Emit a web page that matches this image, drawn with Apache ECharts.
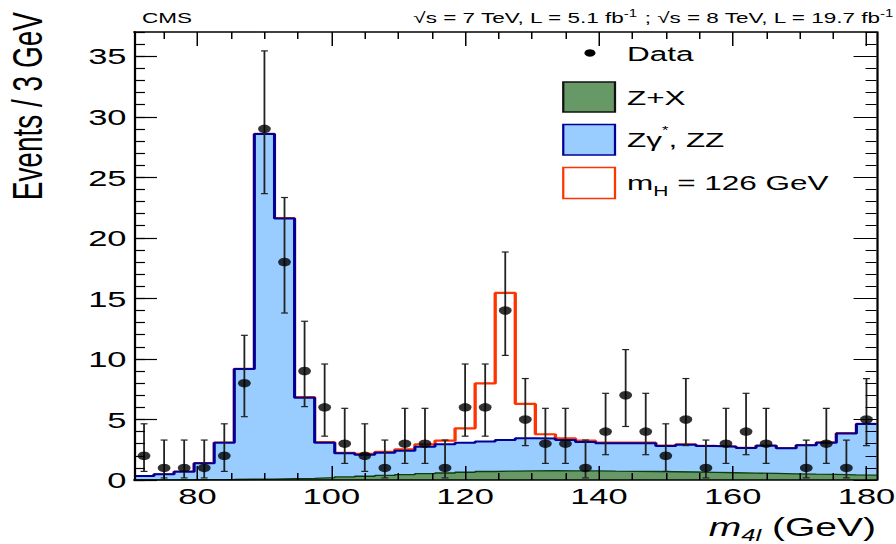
<!DOCTYPE html>
<html>
<head>
<meta charset="utf-8">
<title>m4l distribution</title>
<script src="https://cdn.jsdelivr.net/npm/echarts@6/dist/echarts.min.js"></script>
<style>
  html, body { margin: 0; padding: 0; background: #fff; overflow: hidden; }
  /* the reference plot is stretched sideways, so draw it narrow and scale it out */
  #chart { width: 597.333px; height: 544px; transform: scaleX(1.5); transform-origin: 0 0; }
</style>
</head>
<body>
<div id="chart"></div>
<script>
const FONT = 'Liberation Sans, Arial, Helvetica, sans-serif';

const binWidth = 3;
const binCenters = [72, 75, 78, 81, 84, 87, 90, 93, 96, 99, 102, 105, 108, 111, 114, 117, 120, 123, 126,
  129, 132, 135, 138, 141, 144, 147, 150, 153, 156, 159, 162, 165, 168, 171, 174, 177, 180];

// observed events and their error bar ends
const dataCounts = [2, 1, 1, 1, 2, 8, 29, 18, 9, 6, 3, 2, 1, 3, 3, 1, 6, 6, 14,
  5, 3, 3, 1, 4, 7, 4, 2, 5, 1, 3, 4, 3, 0, 1, 3, 1, 5];
const errLow = [0.71, 0.17, 0.17, 0.17, 0.71, 5.23, 23.65, 13.79, 6.06, 3.62, 1.37, 0.71, 0.17, 1.37, 1.37, 0.17, 3.62, 3.62, 10.29,
  2.84, 1.37, 1.37, 0.17, 2.09, 4.42, 2.09, 0.71, 2.84, 0.17, 1.37, 2.09, 1.37, 0, 0.17, 1.37, 0.17, 2.84];
const errHigh = [4.64, 3.30, 3.30, 3.30, 4.64, 11.95, 35.44, 23.33, 13.11, 9.58, 5.92, 4.64, 3.30, 5.92, 5.92, 3.30, 9.58, 9.58, 18.83,
  8.38, 5.92, 5.92, 3.30, 7.16, 10.77, 7.16, 4.64, 8.38, 3.30, 5.92, 7.16, 5.92, 0, 3.30, 5.92, 3.30, 8.38];

// stacked histogram tops: Z+X, then + Zgamma*/ZZ, then + Higgs (126 GeV)
const zxTop = [0.01, 0.01, 0.02, 0.03, 0.04, 0.06, 0.08, 0.11, 0.14, 0.19, 0.25, 0.31, 0.38, 0.45, 0.52, 0.58, 0.64, 0.7, 0.74,
  0.76, 0.77, 0.76, 0.75, 0.73, 0.72, 0.7, 0.68, 0.66, 0.63, 0.6, 0.57, 0.54, 0.51, 0.48, 0.46, 0.43, 0.41];
const zzTop = [0.33, 0.47, 0.69, 1.38, 3.08, 9.17, 28.57, 21.6, 6.8, 3.08, 2.2, 2.09, 2.26, 2.42, 2.75, 2.95, 3.08, 3.17, 3.3,
  3.44, 3.42, 3.3, 3.14, 3.03, 3.03, 3.03, 2.8, 2.92, 2.8, 2.75, 2.64, 2.83, 2.62, 2.86, 3.08, 3.85, 4.62];
const higgsTop = [0.33, 0.47, 0.69, 1.39, 3.09, 9.18, 28.58, 21.62, 6.85, 3.12, 2.25, 2.17, 2.32, 2.53, 2.95, 3.25, 4.27, 7.98, 15.45,
  6.28, 3.78, 3.44, 3.25, 3.08, 3.08, 3.08, 2.84, 2.95, 2.83, 2.77, 2.66, 2.85, 2.64, 2.88, 3.1, 3.87, 4.64];

// axis ticks
const xMajorTicks = [80, 100, 120, 140, 160, 180];
const xMinorTicks = [75, 85, 90, 95, 105, 110, 115, 125, 130, 135, 145, 150, 155, 165, 170, 175];
const yMajorTicks = [0, 5, 10, 15, 20, 25, 30, 35];

const xMin = 70.5, xMax = 181.5, yMin = 0, yMax = 37;

// histogram as step line: one point on each bin's low edge plus the last high edge
const stepData = (tops) => {
  const pts = binCenters.map((c, i) => [c - binWidth / 2, tops[i]]);
  pts.push([binCenters[binCenters.length - 1] + binWidth / 2, tops[tops.length - 1]]);
  return pts;
};

const dataPoints = binCenters
  .map((c, i) => [c, dataCounts[i], errLow[i], errHigh[i]])
  .filter(p => p[1] > 0);

const lineStyle = { color: '#000', width: 1.5 };
const tickStyle = { color: '#000', width: 1 };

const xAxisDef = (pos, ticks, len, major) => ({
  type: 'value', position: pos, min: xMin, max: xMax, z: 10,
  axisLine: { show: major, onZero: false, lineStyle: lineStyle },
  axisTick: { show: true, inside: true, length: len, customValues: ticks, lineStyle: tickStyle },
  axisLabel: major && pos === 'bottom'
    ? { show: true, customValues: ticks, color: '#000', fontSize: 23, fontFamily: FONT, margin: 4 }
    : { show: false },
  splitLine: { show: false },
});

const yAxisDef = (pos, major) => ({
  type: 'value', position: pos, min: yMin, max: yMax, z: 10,
  interval: major ? undefined : 1,
  axisLine: { show: major, onZero: false, lineStyle: lineStyle },
  axisTick: major
    ? { show: true, inside: true, length: 15.3, customValues: yMajorTicks, lineStyle: { color: '#000', width: 1.2 } }
    : { show: true, inside: true, length: 7.3, lineStyle: { color: '#000', width: 1.2 } },
  axisLabel: major && pos === 'left'
    ? { show: true, customValues: yMajorTicks, color: '#000', fontSize: 23, fontFamily: FONT, margin: 5 }
    : { show: false },
  splitLine: { show: false },
});

const chart = echarts.init(document.getElementById('chart'), null, { renderer: 'svg' });

const option = {
  backgroundColor: '#fff',
  animation: false,
  textStyle: { fontFamily: FONT },
  grid: { left: 89.333, right: 12.667, top: 32, bottom: 64, outerBoundsMode: 'none' },
  xAxis: [
    xAxisDef('bottom', xMajorTicks, 14, true),
    xAxisDef('bottom', xMinorTicks, 7, false),
    xAxisDef('top', xMajorTicks, 14, true),
    xAxisDef('top', xMinorTicks, 7, false),
  ],
  yAxis: [
    yAxisDef('left', true),
    yAxisDef('left', false),
    yAxisDef('right', true),
    yAxisDef('right', false),
  ],
  series: [
    {
      name: 'mH = 126 GeV', type: 'line', step: 'end', data: stepData(higgsTop),
      showSymbol: false, silent: true, z: 2,
      lineStyle: { color: '#ff3300', width: 2.2 },
    },
    {
      name: 'Zgamma*, ZZ', type: 'line', step: 'end', data: stepData(zzTop),
      showSymbol: false, silent: true, z: 3,
      lineStyle: { color: '#000099', width: 2 },
      areaStyle: { color: '#99ccff', opacity: 1 },
    },
    {
      name: 'Z+X', type: 'line', step: 'end', data: stepData(zxTop),
      showSymbol: false, silent: true, z: 4,
      lineStyle: { color: '#0d3d0d', width: 1.3 },
      areaStyle: { color: '#669966', opacity: 1 },
    },
    {
      name: 'Data errors', type: 'custom', z: 5, silent: true,
      data: dataPoints,
      encode: { x: 0, y: [2, 3] },
      renderItem: (params, api) => {
        const x = api.value(0);
        const lo = api.coord([x, api.value(2)]);
        const hi = api.coord([x, api.value(3)]);
        const cap = 2.3;
        const style = { stroke: '#222', lineWidth: 1.2 };
        return {
          type: 'group',
          children: [
            { type: 'line', shape: { x1: lo[0], y1: lo[1], x2: hi[0], y2: hi[1] }, style: style },
            { type: 'line', shape: { x1: lo[0] - cap, y1: lo[1], x2: lo[0] + cap, y2: lo[1] }, style: style },
            { type: 'line', shape: { x1: hi[0] - cap, y1: hi[1], x2: hi[0] + cap, y2: hi[1] }, style: style },
          ],
        };
      },
    },
    {
      name: 'Data', type: 'scatter', z: 6, silent: true,
      data: dataPoints.map(p => [p[0], p[1]]),
      symbol: 'circle', symbolSize: 8.5,
      itemStyle: { color: '#000' },
    },
  ],
  graphic: [
    { type: 'text', x: 94.7, y: 18, style: { text: 'CMS', fontSize: 15, fontFamily: FONT, fill: '#000', verticalAlign: 'middle' } },
    {
      type: 'text', x: 595.5, y: 18,
      style: {
        text: '√s = 7 TeV, L = 5.1 fb{sup|-1} ; √s = 8 TeV, L = 19.7 fb{sup|-1}',
        fontSize: 15, fontFamily: FONT, fill: '#000', align: 'right', verticalAlign: 'middle', lineHeight: 20,
        rich: { sup: { fontSize: 10, lineHeight: 10, verticalAlign: 'top' } },
      },
    },
    {
      type: 'text', x: 18.7, y: 12, rotation: Math.PI / 2,
      style: { text: 'Events / 3 GeV', fontSize: 28, fontFamily: FONT, fill: '#000', align: 'right', verticalAlign: 'middle' },
    },
    {
      type: 'text', x: 584, y: 527,
      style: {
        text: '{i|m}{sub|4l} (GeV)',
        fontSize: 26, fontFamily: FONT, fill: '#000', align: 'right', verticalAlign: 'middle', lineHeight: 34,
        rich: {
          i: { fontStyle: 'italic', fontSize: 26, fontFamily: FONT },
          sub: { fontStyle: 'italic', fontSize: 17, lineHeight: 17, fontFamily: FONT, verticalAlign: 'bottom' },
        },
      },
    },
    // legend
    { type: 'circle', shape: { cx: 393.3, cy: 53, r: 3.7 }, style: { fill: '#000' } },
    { type: 'text', x: 418, y: 54, style: { text: 'Data', fontSize: 21, fontFamily: FONT, fill: '#000', verticalAlign: 'middle' } },
    { type: 'rect', shape: { x: 375.5, y: 82, width: 34.5, height: 30 }, style: { fill: '#669966', stroke: '#111', lineWidth: 1.5 } },
    { type: 'text', x: 418, y: 98, style: { text: 'Z+X', fontSize: 21, fontFamily: FONT, fill: '#000', verticalAlign: 'middle' } },
    { type: 'rect', shape: { x: 375.5, y: 124.5, width: 34.5, height: 30.5 }, style: { fill: '#99ccff', stroke: '#000099', lineWidth: 1.5 } },
    {
      type: 'text', x: 418, y: 140,
      style: {
        text: 'Zγ{sup|*}, ZZ', fontSize: 21, fontFamily: FONT, fill: '#000', verticalAlign: 'middle', lineHeight: 30,
        rich: { sup: { fontSize: 11, lineHeight: 11, verticalAlign: 'top' } },
      },
    },
    { type: 'rect', shape: { x: 375.5, y: 167.5, width: 34.5, height: 31 }, style: { fill: '#fff', stroke: '#ff3300', lineWidth: 1.5 } },
    {
      type: 'text', x: 418, y: 183,
      style: {
        text: 'm{sub|H} = 126 GeV', fontSize: 21, fontFamily: FONT, fill: '#000', verticalAlign: 'middle', lineHeight: 30,
        rich: { sub: { fontSize: 14, lineHeight: 14, verticalAlign: 'bottom' } },
      },
    },
  ],
};

chart.setOption(option);
</script>
</body>
</html>
